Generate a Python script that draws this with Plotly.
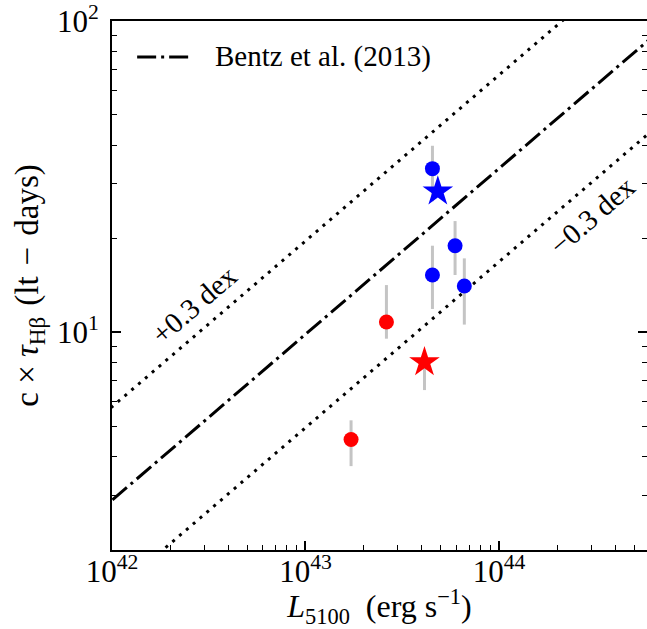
import numpy as np
import plotly.graph_objects as go

# Bentz et al. (2013) radius-luminosity relation: log(R/lt-day) = K + alpha*log(L/1e44)
bentz_K = 1.527
bentz_alpha = 0.533
offset_dex = 0.3

# Blue sample (circles + star)
blue_L = [4.53e43, 5.93e43, 4.53e43, 6.62e43]
blue_tau = [33.6, 19.0, 15.3, 14.1]
blue_err_up = [6.2, 3.8, 3.7, 3.2]
blue_err_lo = [7.2, 3.7, 3.4, 3.5]

blue_star_L = [4.83e43]
blue_star_tau = [28.4]
blue_star_err_up = [1.0]
blue_star_err_lo = [1.0]

# Red sample (circles + star)
red_L = [2.62e43, 1.72e43]
red_tau = [10.8, 4.53]
red_err_up = [3.4, 0.69]
red_err_lo = [1.25, 0.81]

red_star_L = [4.12e43]
red_star_tau = [8.03]
red_star_err_up = [0.6]
red_star_err_lo = [1.5]

x_major = [1e42, 1e43, 1e44]
x_major_text = ["10<sup>42</sup>", "10<sup>43</sup>", "10<sup>44</sup>"]
y_major = [10, 100]
y_major_text = ["10<sup>1</sup>", "10<sup>2</sup>"]

legend_label = "Bentz et al. (2013)"

FONT = "Liberation Serif"
ERR_COLOR = "#c4c4c4"
DOT = "3px,6px"
DASHDOT = "19px,5px,3px,5px"
EN = "\u2002"
THICK = "\u2004"

logL = np.linspace(41.5, 45.5, 300)
L_line = 10 ** logL
R_line = 10 ** (bentz_K + bentz_alpha * (logL - 44))

fig = go.Figure()

fig.add_trace(go.Scatter(x=L_line, y=R_line * 10 ** offset_dex, mode="lines",
                         line=dict(color="black", width=3, dash=DOT),
                         showlegend=False, hoverinfo="skip"))
fig.add_trace(go.Scatter(x=L_line, y=R_line / 10 ** offset_dex, mode="lines",
                         line=dict(color="black", width=3, dash=DOT),
                         showlegend=False, hoverinfo="skip"))
fig.add_trace(go.Scatter(x=L_line, y=R_line, mode="lines", name=legend_label,
                         line=dict(color="black", width=3, dash=DASHDOT),
                         showlegend=False))


def points(xs, ys, up, lo, color, symbol, size):
    return go.Scatter(
        x=xs, y=ys, mode="markers", showlegend=False,
        marker=dict(color=color, symbol=symbol, size=size, line=dict(width=0)),
        error_y=dict(type="data", symmetric=False, array=up, arrayminus=lo,
                     color=ERR_COLOR, thickness=3, width=0),
    )


fig.add_trace(points(blue_L, blue_tau, blue_err_up, blue_err_lo, "#0000ff", "circle", 15))
fig.add_trace(points(blue_star_L, blue_star_tau, blue_star_err_up, blue_star_err_lo, "#0000ff", "star", 23))
fig.add_trace(points(red_L, red_tau, red_err_up, red_err_lo, "#ff0000", "circle", 15))
fig.add_trace(points(red_star_L, red_star_tau, red_star_err_up, red_star_err_lo, "#ff0000", "star", 23))

# invisible trace so the right-hand tick-only axis is drawn
fig.add_trace(go.Scatter(x=[1e43], y=[10], yaxis="y2", mode="markers",
                         marker=dict(opacity=0), showlegend=False, hoverinfo="skip"))

x_minor = [m * 10.0 ** e for e in (42, 43, 44) for m in range(2, 10)]
y_minor = [m * 10.0 ** e for e in (0, 1) for m in range(2, 10)]

y_range = [np.log10(2), 2.0008]

fig.update_layout(
    width=647, height=629,
    margin=dict(l=112, r=0, t=16, b=79),
    paper_bgcolor="white", plot_bgcolor="white",
    font=dict(family=FONT, color="black", size=26),
    xaxis=dict(
        type="log", range=[42, 44.765],
        showline=True, linecolor="black", linewidth=2, mirror=True,
        ticks="inside", ticklen=9, tickwidth=1.5, tickcolor="black",
        tickvals=x_major, ticktext=x_major_text,
        tickfont=dict(size=31, family=FONT), ticklabelstandoff=-7,
        minor=dict(ticks="inside", ticklen=5, tickwidth=1.2, tickcolor="black",
                   tickvals=x_minor, showgrid=False),
        showgrid=False, zeroline=False,
        title=dict(text=f"<i>L</i><sub>5100</sub>{EN}(erg s<sup>−1</sup>)",
                   font=dict(size=32, family=FONT), standoff=9),
    ),
    yaxis=dict(
        type="log", range=y_range,
        showline=True, linecolor="black", linewidth=2, mirror=False,
        ticks="inside", ticklen=9, tickwidth=1.5, tickcolor="black",
        tickvals=y_major, ticktext=y_major_text,
        tickfont=dict(size=31, family=FONT), ticklabelstandoff=5,
        ticklabeloverflow="allow",
        minor=dict(ticks="inside", ticklen=5, tickwidth=1.2, tickcolor="black",
                   tickvals=y_minor, showgrid=False),
        showgrid=False, zeroline=False,
        title=dict(text=f"c × <i>τ</i><sub>Hβ</sub>{THICK}(lt{THICK}−{THICK}days)",
                   font=dict(size=33, family=FONT), standoff=8),
    ),
    yaxis2=dict(
        type="log", range=y_range, overlaying="y", side="right",
        showline=False, ticks="inside", ticklen=9, tickwidth=1.5, tickcolor="black",
        tickvals=y_major, showticklabels=False,
        minor=dict(ticks="inside", ticklen=5, tickwidth=1.2, tickcolor="black",
                   tickvals=y_minor, showgrid=False),
        showgrid=False, zeroline=False,
    ),
    shapes=[
        # legend sample for the Bentz et al. line
        dict(type="line", xref="paper", yref="paper", x0=0.047, x1=0.146,
             y0=0.932, y1=0.932, line=dict(color="black", width=3, dash=DASHDOT)),
    ],
    annotations=[
        dict(text=legend_label, xref="paper", yref="paper", x=0.189, y=0.932,
             xanchor="left", yanchor="middle", showarrow=False,
             font=dict(size=29, family=FONT)),
        dict(text="+0.3 dex", x=42.423, y=1.089, xref="x", yref="y",
             showarrow=False, textangle=-41, font=dict(size=29, family=FONT)),
        dict(text="−0.3 dex", x=44.479, y=1.375, xref="x", yref="y",
             showarrow=False, textangle=-41, font=dict(size=29, family=FONT)),
    ],
)

fig.write_html("out.html")
